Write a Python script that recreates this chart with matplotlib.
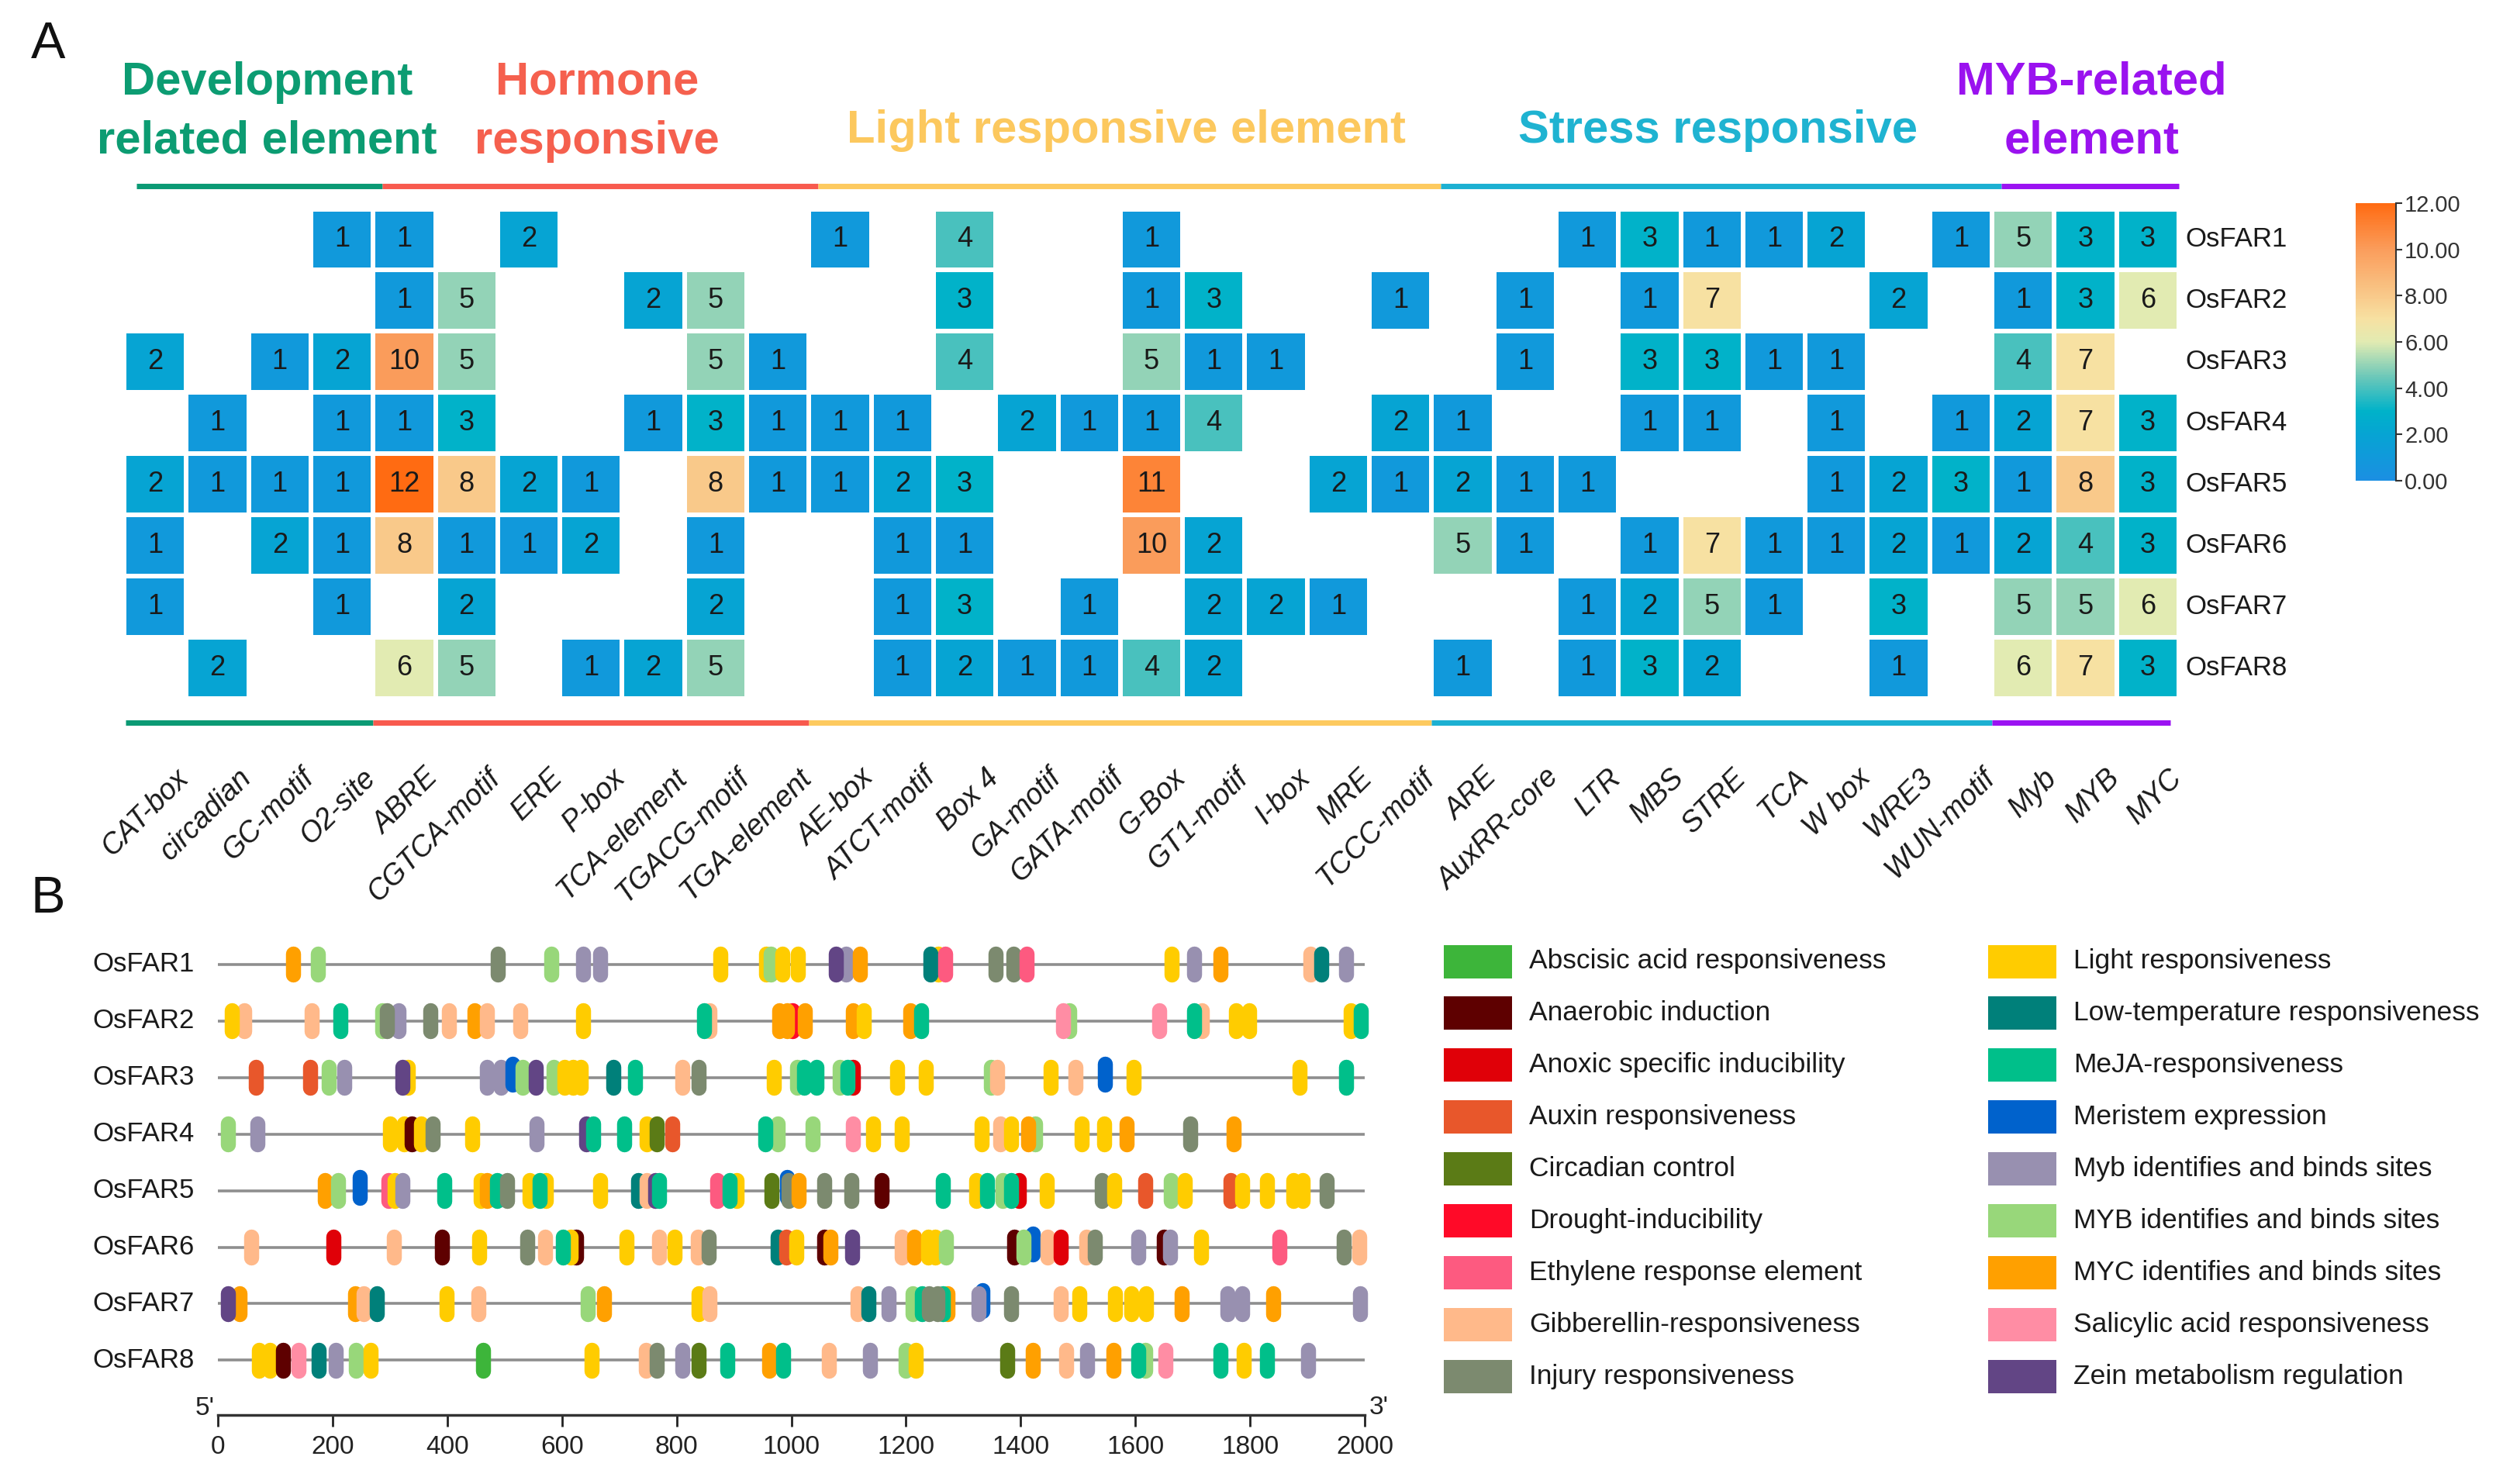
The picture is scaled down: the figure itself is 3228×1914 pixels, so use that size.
import numpy as np
import matplotlib
matplotlib.use("Agg")
import matplotlib.pyplot as plt
from matplotlib.colors import LinearSegmentedColormap, Normalize
from matplotlib.patches import Rectangle
import matplotlib.transforms as mtransforms
from matplotlib.cm import ScalarMappable

plt.rcParams['font.family'] = ['Liberation Sans', 'DejaVu Sans']

# ---------------- Panel A data ----------------
genes = ['OsFAR1', 'OsFAR2', 'OsFAR3', 'OsFAR4', 'OsFAR5', 'OsFAR6', 'OsFAR7', 'OsFAR8']
elements = ['CAT-box', 'circadian', 'GC-motif', 'O2-site',
            'ABRE', 'CGTCA-motif', 'ERE', 'P-box', 'TCA-element', 'TGACG-motif', 'TGA-element',
            'AE-box', 'ATCT-motif', 'Box 4', 'GA-motif', 'GATA-motif', 'G-Box', 'GT1-motif',
            'I-box', 'MRE', 'TCCC-motif',
            'ARE', 'AuxRR-core', 'LTR', 'MBS', 'STRE', 'TCA', 'W box', 'WRE3', 'WUN-motif',
            'Myb', 'MYB', 'MYC']
group_names = ['Development\nrelated element', 'Hormone\nresponsive', 'Light responsive element',
               'Stress responsive', 'MYB-related\nelement']
group_sizes = [4, 7, 10, 9, 3]
group_text_colors = ['#0c9c72', '#f5604e', '#fcc85e', '#1fb3d1', '#9a12ef']
group_line_colors = ['#0b9a74', '#f85a4e', '#fdca5f', '#1cb0d2', '#9b12f2']

far1 = [0,0,0,1,1, 0,2,0,0,0, 0,1,0,4,0, 0,1,0,0,0, 0,0,0,1,3, 1,1,2,0,1, 5,3,3]
far2 = [0,0,0,0,1, 5,0,0,2,5, 0,0,0,3,0, 0,1,3,0,0, 1,0,1,0,1, 7,0,0,2,0, 1,3,6]
far3 = [2,0,1,2,10, 5,0,0,0,5, 1,0,0,4,0, 0,5,1,1,0, 0,0,1,0,3, 3,1,1,0,0, 4,7,0]
far4 = [0,1,0,1,1, 3,0,0,1,3, 1,1,1,0,2, 1,1,4,0,0, 2,1,0,0,1, 1,0,1,0,1, 2,7,3]
far5 = [2,1,1,1,12, 8,2,1,0,8, 1,1,2,3,0, 0,11,0,0,2, 1,2,1,1,0, 0,0,1,2,3, 1,8,3]
far6 = [1,0,2,1,8, 1,1,2,0,1, 0,0,1,1,0, 0,10,2,0,0, 0,5,1,0,1, 7,1,1,2,1, 2,4,3]
far7 = [1,0,0,1,0, 2,0,0,0,2, 0,0,1,3,0, 1,0,2,2,1, 0,0,0,1,2, 5,1,0,3,0, 5,5,6]
far8 = [0,2,0,0,6, 5,0,1,2,5, 0,0,1,2,1, 1,4,2,0,0, 0,1,0,1,3, 2,0,0,1,0, 6,7,3]
cbar_ticks = [0, 2, 4, 6, 8, 10, 12]

# ---------------- Panel B data ----------------
type_codes = ['ABA', 'ANA', 'ANO', 'AUX', 'CIR', 'DRO', 'ETH', 'GIB', 'INJ',
              'LIG', 'LOW', 'MEJ', 'MER', 'MYb', 'MYB', 'MYC', 'SAL', 'ZEI']
type_names = ['Abscisic acid responsiveness', 'Anaerobic induction', 'Anoxic specific inducibility',
              'Auxin responsiveness', 'Circadian control', 'Drought-inducibility',
              'Ethylene response element', 'Gibberellin-responsiveness', 'Injury responsiveness',
              'Light responsiveness', 'Low-temperature responsiveness', 'MeJA-responsiveness',
              'Meristem expression', 'Myb identifies and binds sites', 'MYB identifies and binds sites',
              'MYC identifies and binds sites', 'Salicylic acid responsiveness',
              'Zein metabolism regulation']
type_colors = ['#3db53a', '#5e0000', '#e00008', '#e8572b', '#5b7b16', '#ff0a28', '#fd5a80',
               '#ffb98a', '#7c8a6f', '#ffcc00', '#00807a', '#00bf8a', '#0062cc', '#9890b0',
               '#98d77a', '#ffa000', '#ff8da4', '#624585']

far1_pos = [131,174,488,581,637,667,876,956,964,984,1012,1095,1078,1120,1256,1243,1268,1356,1388,1411,1663,1703,1748,1906,1924,1968]
far1_typ = ['MYC','MYB','INJ','MYB','MYb','MYb','LIG','LIG','MYB','LIG','LIG','MYb','ZEI','MYC','LIG','LOW','ETH','INJ','INJ','ETH','LIG','MYb','MYC','GIB','LOW','MYb']
far2_pos = [46,25,164,213,287,315,295,370,403,447,469,528,637,858,848,1002,979,992,1024,1108,1126,1207,1226,1485,1474,1642,1716,1703,1776,1799,1975,1993]
far2_typ = ['GIB','LIG','GIB','MEJ','MYB','MYb','INJ','INJ','GIB','MYC','GIB','GIB','LIG','GIB','MEJ','DRO','MYC','MYC','MYC','MYC','LIG','MYC','MEJ','MYB','SAL','SAL','GIB','MEJ','LIG','LIG','LIG','MEJ']
far3_pos = [66,161,193,220,331,322,469,494,514,531,555,586,605,620,633,689,728,810,838,969,1010,1022,1044,1085,1108,1098,1185,1235,1348,1359,1453,1496,1547,1597,1887,1968]
far3_typ = ['AUX','AUX','MYB','MYb','LIG','ZEI','MYb','MYb','MER','MYB','ZEI','MYB','LIG','LIG','LIG','LOW','MEJ','GIB','INJ','LIG','MYB','MEJ','MEJ','MYB','ANO','MEJ','LIG','LIG','MYB','GIB','LIG','GIB','MER','LIG','LIG','MEJ']
far4_pos = [17,69,300,325,338,354,374,443,556,643,654,709,748,766,792,976,955,1037,1108,1143,1193,1332,1364,1425,1383,1413,1507,1546,1585,1696,1771]
far4_typ = ['MYB','MYb','LIG','LIG','ANA','LIG','INJ','LIG','MYb','ZEI','MEJ','MEJ','LIG','CIR','AUX','MYB','MEJ','MYB','SAL','LIG','LIG','LIG','GIB','MYB','LIG','MYC','LIG','LIG','MYC','INJ','MYC']
far5_pos = [186,210,247,297,308,322,395,458,469,487,504,543,572,561,667,733,748,763,770,871,904,892,965,992,995,1013,1058,1105,1158,1264,1323,1341,1369,1397,1383,1445,1542,1563,1617,1662,1686,1766,1786,1829,1876,1892,1934]
far5_typ = ['MYC','MYB','MER','ETH','LIG','MYb','MEJ','LIG','MYC','MEJ','INJ','LIG','LIG','MEJ','LIG','LOW','GIB','ZEI','MEJ','ETH','LIG','MEJ','CIR','MER','INJ','MYC','INJ','INJ','ANA','MEJ','LIG','MEJ','MYB','ANO','MEJ','LIG','INJ','LIG','AUX','MYB','LIG','AUX','LIG','LIG','LIG','LIG','INJ']
far6_pos = [58,201,307,391,456,540,571,625,615,602,713,769,797,837,856,976,991,1009,1057,1068,1106,1193,1215,1238,1251,1270,1389,1421,1405,1447,1470,1514,1529,1605,1650,1660,1715,1851,1963,1991]
far6_typ = ['GIB','ANO','GIB','ANA','LIG','INJ','GIB','ANA','LIG','MEJ','LIG','GIB','LIG','GIB','INJ','LOW','AUX','LIG','ANA','MYC','ZEI','GIB','MYC','LIG','LIG','MYB','ANA','MER','MYB','GIB','ANO','GIB','INJ','MYb','ANA','MYb','LIG','ETH','INJ','GIB']
far7_pos = [38,18,240,254,277,399,455,645,674,838,858,1116,1135,1170,1211,1272,1264,1228,1240,1255,1333,1327,1383,1470,1502,1564,1593,1619,1681,1760,1786,1841,1992]
far7_typ = ['MYC','ZEI','MYC','GIB','LOW','LIG','GIB','MYB','MYC','LIG','GIB','GIB','LOW','MYb','MYB','MYC','MEJ','MEJ','INJ','INJ','MER','MYb','INJ','GIB','LIG','LIG','LIG','LIG','MYC','MYb','MYb','MYC','MYb']
far8_pos = [71,90,113,140,176,205,241,266,462,652,746,766,810,838,889,961,986,1065,1137,1199,1217,1377,1421,1480,1516,1562,1617,1605,1652,1748,1789,1829,1901]
far8_typ = ['LIG','LIG','ANA','SAL','LOW','MYb','MYB','LIG','ABA','LIG','GIB','INJ','MYb','CIR','MEJ','MYC','MEJ','GIB','MYb','MYB','LIG','CIR','MYC','GIB','MYb','MYC','MYB','MEJ','SAL','MEJ','LIG','MEJ','MYb']
promoter_length = 2000
axis_ticks = list(range(0, 2001, 200))

# ---------------- Figure ----------------
W, H = 3228, 1914
fig = plt.figure(figsize=(W / 100, H / 100), dpi=100)
fig.patch.set_facecolor('white')


def fx(px):
    return px / W


def fy(py):
    return 1 - py / H


cmap = LinearSegmentedColormap.from_list('far', [
    (0.0, '#1b8fe2'), (2 / 12, '#06a4d3'), (3 / 12, '#00b2c9'), (4.5 / 12, '#6dc8b9'),
    (6 / 12, '#e2ebb2'), (7 / 12, '#f7e1a2'), (8 / 12, '#f9c98a'), (10 / 12, '#fa9d5c'),
    (1.0, '#ff6b12')])
norm = Normalize(vmin=0, vmax=12)

# ---- Panel A: heatmap ----
hx0, hx1, hy0, hy1 = 160.0, 2810.0, 269.5, 900.5
axh = fig.add_axes([fx(hx0), fy(hy1), (hx1 - hx0) / W, (hy1 - hy0) / H])
M = np.array([far1, far2, far3, far4, far5, far6, far7, far8])
nrow, ncol = M.shape
Z = np.ma.masked_equal(M, 0)
axh.pcolormesh(np.arange(ncol + 1) - 0.5, np.arange(nrow + 1) - 0.5, Z, cmap=cmap, norm=norm,
               edgecolors='white', linewidth=3)
axh.set_xlim(-0.5, ncol - 0.5)
axh.set_ylim(nrow - 0.5, -0.5)
axh.set_axis_off()

pitch_x = (hx1 - hx0) / ncol
pitch_y = (hy1 - hy0) / nrow


def hx(px):
    return -0.5 + (px - hx0) / pitch_x


def hy(py):
    return -0.5 + (py - hy0) / pitch_y


for i in range(nrow):
    for j in range(ncol):
        if M[i, j] > 0:
            axh.text(j, i, str(M[i, j]), ha='center', va='center', fontsize=26, color='#1a1a1a')
    axh.text(hx(2818), i, genes[i], ha='left', va='center', fontsize=25, color='#1a1a1a')

for j, el in enumerate(elements):
    axh.text(j + 0.32, hy(985), el, rotation=45, rotation_mode='anchor', ha='right', va='top',
             fontsize=27, style='italic', color='#1a1a1a', clip_on=False)

bounds = np.cumsum([0] + group_sizes) - 0.5
title_shift = [0.3, 0.1, 0.1, 0.1, 0.1]
for k, name in enumerate(group_names):
    # top line
    x0 = bounds[k] + 0.15 if k > 0 else -0.3
    x1 = bounds[k + 1] + 0.15 if k < len(group_names) - 1 else ncol - 0.5
    axh.plot([x0, x1], [hy(240), hy(240)], color=group_line_colors[k], lw=5,
             solid_capstyle='butt', clip_on=False)
    # bottom line
    b0 = bounds[k] if k > 0 else -0.47
    b1 = bounds[k + 1] if k < len(group_names) - 1 else ncol - 0.64
    axh.plot([b0, b1], [hy(932), hy(932)], color=group_line_colors[k], lw=5,
             solid_capstyle='butt', clip_on=False)
    cx = (bounds[k] + bounds[k + 1]) / 2 + title_shift[k]
    lines = name.split('\n')
    ys = [106, 182] if len(lines) == 2 else [169]
    for ln, yy in zip(lines, ys):
        axh.text(cx, hy(yy), ln, ha='center', va='center', fontsize=43, fontweight='bold',
                 color=group_text_colors[k], clip_on=False)

# colorbar
cax = fig.add_axes([fx(3038), fy(620), 52 / W, 358 / H])
cb = fig.colorbar(ScalarMappable(norm=norm, cmap=cmap), cax=cax, ticks=cbar_ticks, format='%.2f')
cb.outline.set_visible(False)
cax.plot([1, 1], [0, 12], color='#333333', lw=1.5, clip_on=False)
cax.tick_params(length=6, width=1.5, labelsize=21, colors='#333333', pad=2)

# ---- Panel B: promoter map ----
bx0, bx1 = 281.0, 1760.0
row_y0, row_pitch, axis_y, top_y = 1244.0, 72.9, 1825.0, 1200.0
axb = fig.add_axes([fx(bx0), fy(axis_y), (bx1 - bx0) / W, (axis_y - top_y) / H])
axb.set_xlim(0, promoter_length)
axb.set_ylim((axis_y - row_y0) / row_pitch, (top_y - row_y0) / row_pitch)
color_of = dict(zip(type_codes, type_colors))
half = 13.5 / row_pitch
blend = mtransforms.blended_transform_factory(axb.transAxes, axb.transData)
rows_b = [(far1_pos, far1_typ), (far2_pos, far2_typ), (far3_pos, far3_typ), (far4_pos, far4_typ),
          (far5_pos, far5_typ), (far6_pos, far6_typ), (far7_pos, far7_typ), (far8_pos, far8_typ)]
for i, (pos, typ) in enumerate(rows_b):
    axb.plot([0, promoter_length], [i, i], color='#8e8e8e', lw=2.6, zorder=1,
             solid_capstyle='butt')
    for p, t in zip(pos, typ):
        yo = -0.06 if t == 'MER' else 0.0
        axb.plot([p, p], [i + yo - half, i + yo + half], color=color_of[t], lw=14,
                 solid_capstyle='round', zorder=2, clip_on=False)
    axb.text(-30 / (bx1 - bx0), i, genes[i], transform=blend, ha='right', va='center',
             fontsize=25, color='#1a1a1a')

for s in ['left', 'right', 'top']:
    axb.spines[s].set_visible(False)
axb.spines['bottom'].set_color('#333333')
axb.spines['bottom'].set_linewidth(2.5)
axb.set_xticks(axis_ticks)
axb.set_yticks([])
axb.tick_params(axis='x', length=11, width=2, labelsize=24, pad=8, colors='#222222')
axb.annotate("5'", xy=(0, 0), xycoords=('data', 'axes fraction'), xytext=(-3, 6),
             textcoords='offset points', ha='right', va='center', fontsize=24, color='#222222')
axb.annotate("3'", xy=(promoter_length, 0), xycoords=('data', 'axes fraction'), xytext=(4, 7),
             textcoords='offset points', ha='left', va='center', fontsize=24, color='#222222')

# legend
axl = fig.add_axes([fx(1850), fy(1810), 1378 / W, 610 / H])
axl.set_xlim(0, 1378)
axl.set_ylim(610, 0)
axl.set_axis_off()
for idx, (nm, colr) in enumerate(zip(type_names, type_colors)):
    c, r = idx // 9, idx % 9
    x0 = 12 + 702 * c
    yc = 40 + 66.9 * r
    axl.add_patch(Rectangle((x0, yc - 21.5), 88, 43, color=colr, lw=0))
    axl.text(x0 + 110, yc, nm, ha='left', va='center', fontsize=25.5, color='#1a1a1a')

# panel letters
fig.text(fx(62), fy(58), 'A', fontsize=48, ha='center', va='center', color='#111111')
fig.text(fx(62), fy(1160), 'B', fontsize=48, ha='center', va='center', color='#111111')

fig.savefig('out.png', dpi=100, facecolor='white')
